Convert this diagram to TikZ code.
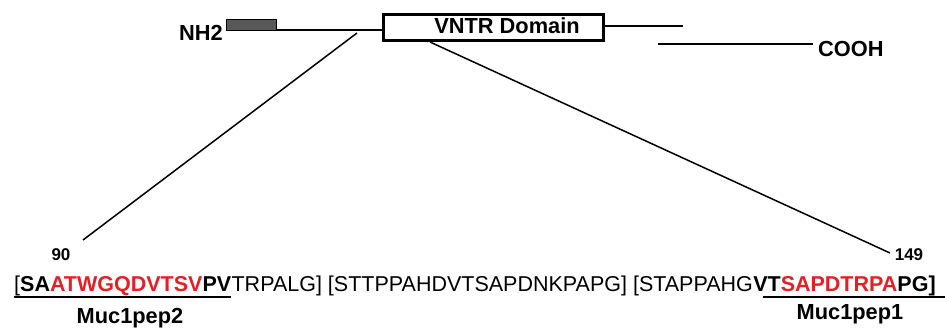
\documentclass[tikz,border=0pt]{standalone}
\usepackage{fontspec}
\setmainfont{Liberation Sans}
\definecolor{epired}{RGB}{226,32,38}
\definecolor{signalgray}{RGB}{88,88,88}
\begin{document}
\begin{tikzpicture}[x=1pt,y=-1pt]
      \tikzset{chain/.style={line width=1.8pt},
               tag/.style={inner sep=0pt, font=\bfseries\fontsize{21.8}{24}\selectfont},
               num/.style={inner sep=0pt, font=\bfseries\fontsize{17}{19}\selectfont},
               seq/.style={inner sep=0pt, font=\fontsize{21.5}{25}\selectfont}}
      \useasboundingbox (0,0) rectangle (945,328);
%% Protein
      	\node[draw=black, fill=signalgray, line width=0.6pt, inner sep=0pt, minimum width=50pt, minimum height=11pt] (signal) at (251,24.5) {};
      	\node[draw, line width=3pt, inner sep=0pt, minimum width=220pt, minimum height=26pt] (vntr) at (493.5,27.5) {};
      	\node[tag] (vntrtext) at (507,26) {VNTR Domain};
      	\node[tag, anchor=east] (nh2) at (223,33) {NH2};
      	\node[tag, anchor=west] (cooh) at (818,49) {COOH};
      	\coordinate (tailA) at (683,26);
      	\coordinate (tailB) at (658,44);
      	\coordinate (tailC) at (813,44);
%Backbone
		\draw[chain] (signal.south east) -- (signal.south east -| vntr.west);
		\draw[chain] (vntr.east |- tailA) -- (tailA);
		\draw[chain] (tailB) -- (tailC);
%% Repeat sequence
      	\node[seq, anchor=base west] (seqA) at (14,292) {[\textbf{SA\textcolor{epired}{ATWGQDVTSV}PV}};
      	\node[seq, anchor=base west] (seqB) at (seqA.base east) {TRPALG] [STTPPAHDVTSAPDNKPAPG] [STAPPAHG};
      	\node[seq, anchor=base west] (seqC) at (seqB.base east) {\textbf{VT\textcolor{epired}{SAPDTRPA}PG]}};
      	\node[num] (n90) at (61,255) {90};
      	\node[num] (n149) at (909,255) {149};
      	\coordinate (zoomL) at (357,33);
      	\coordinate (zoomR) at (430,42);
      	\coordinate (endL) at (83,240);
      	\coordinate (endR) at (890,253);
%Zoom lines
		\draw[chain, line width=1.5pt] (zoomL) -- (endL);
		\draw[chain, line width=1.5pt] (zoomR) -- (endR);
%% Peptides
		\draw[chain, line width=2.2pt] ([yshift=-5pt]seqA.base west) -- ([yshift=-5pt]seqA.base east);
		\draw[chain, line width=2.2pt] ([xshift=10pt,yshift=-5pt]seqC.base west) -- ([yshift=-5pt]seqC.base west -| 945,0);
      	\node[tag] (pep2) at (130,318) {Muc1pep2};
      	\node[tag] (pep1) at (850,314) {Muc1pep1};
	\end{tikzpicture}
\end{document}
